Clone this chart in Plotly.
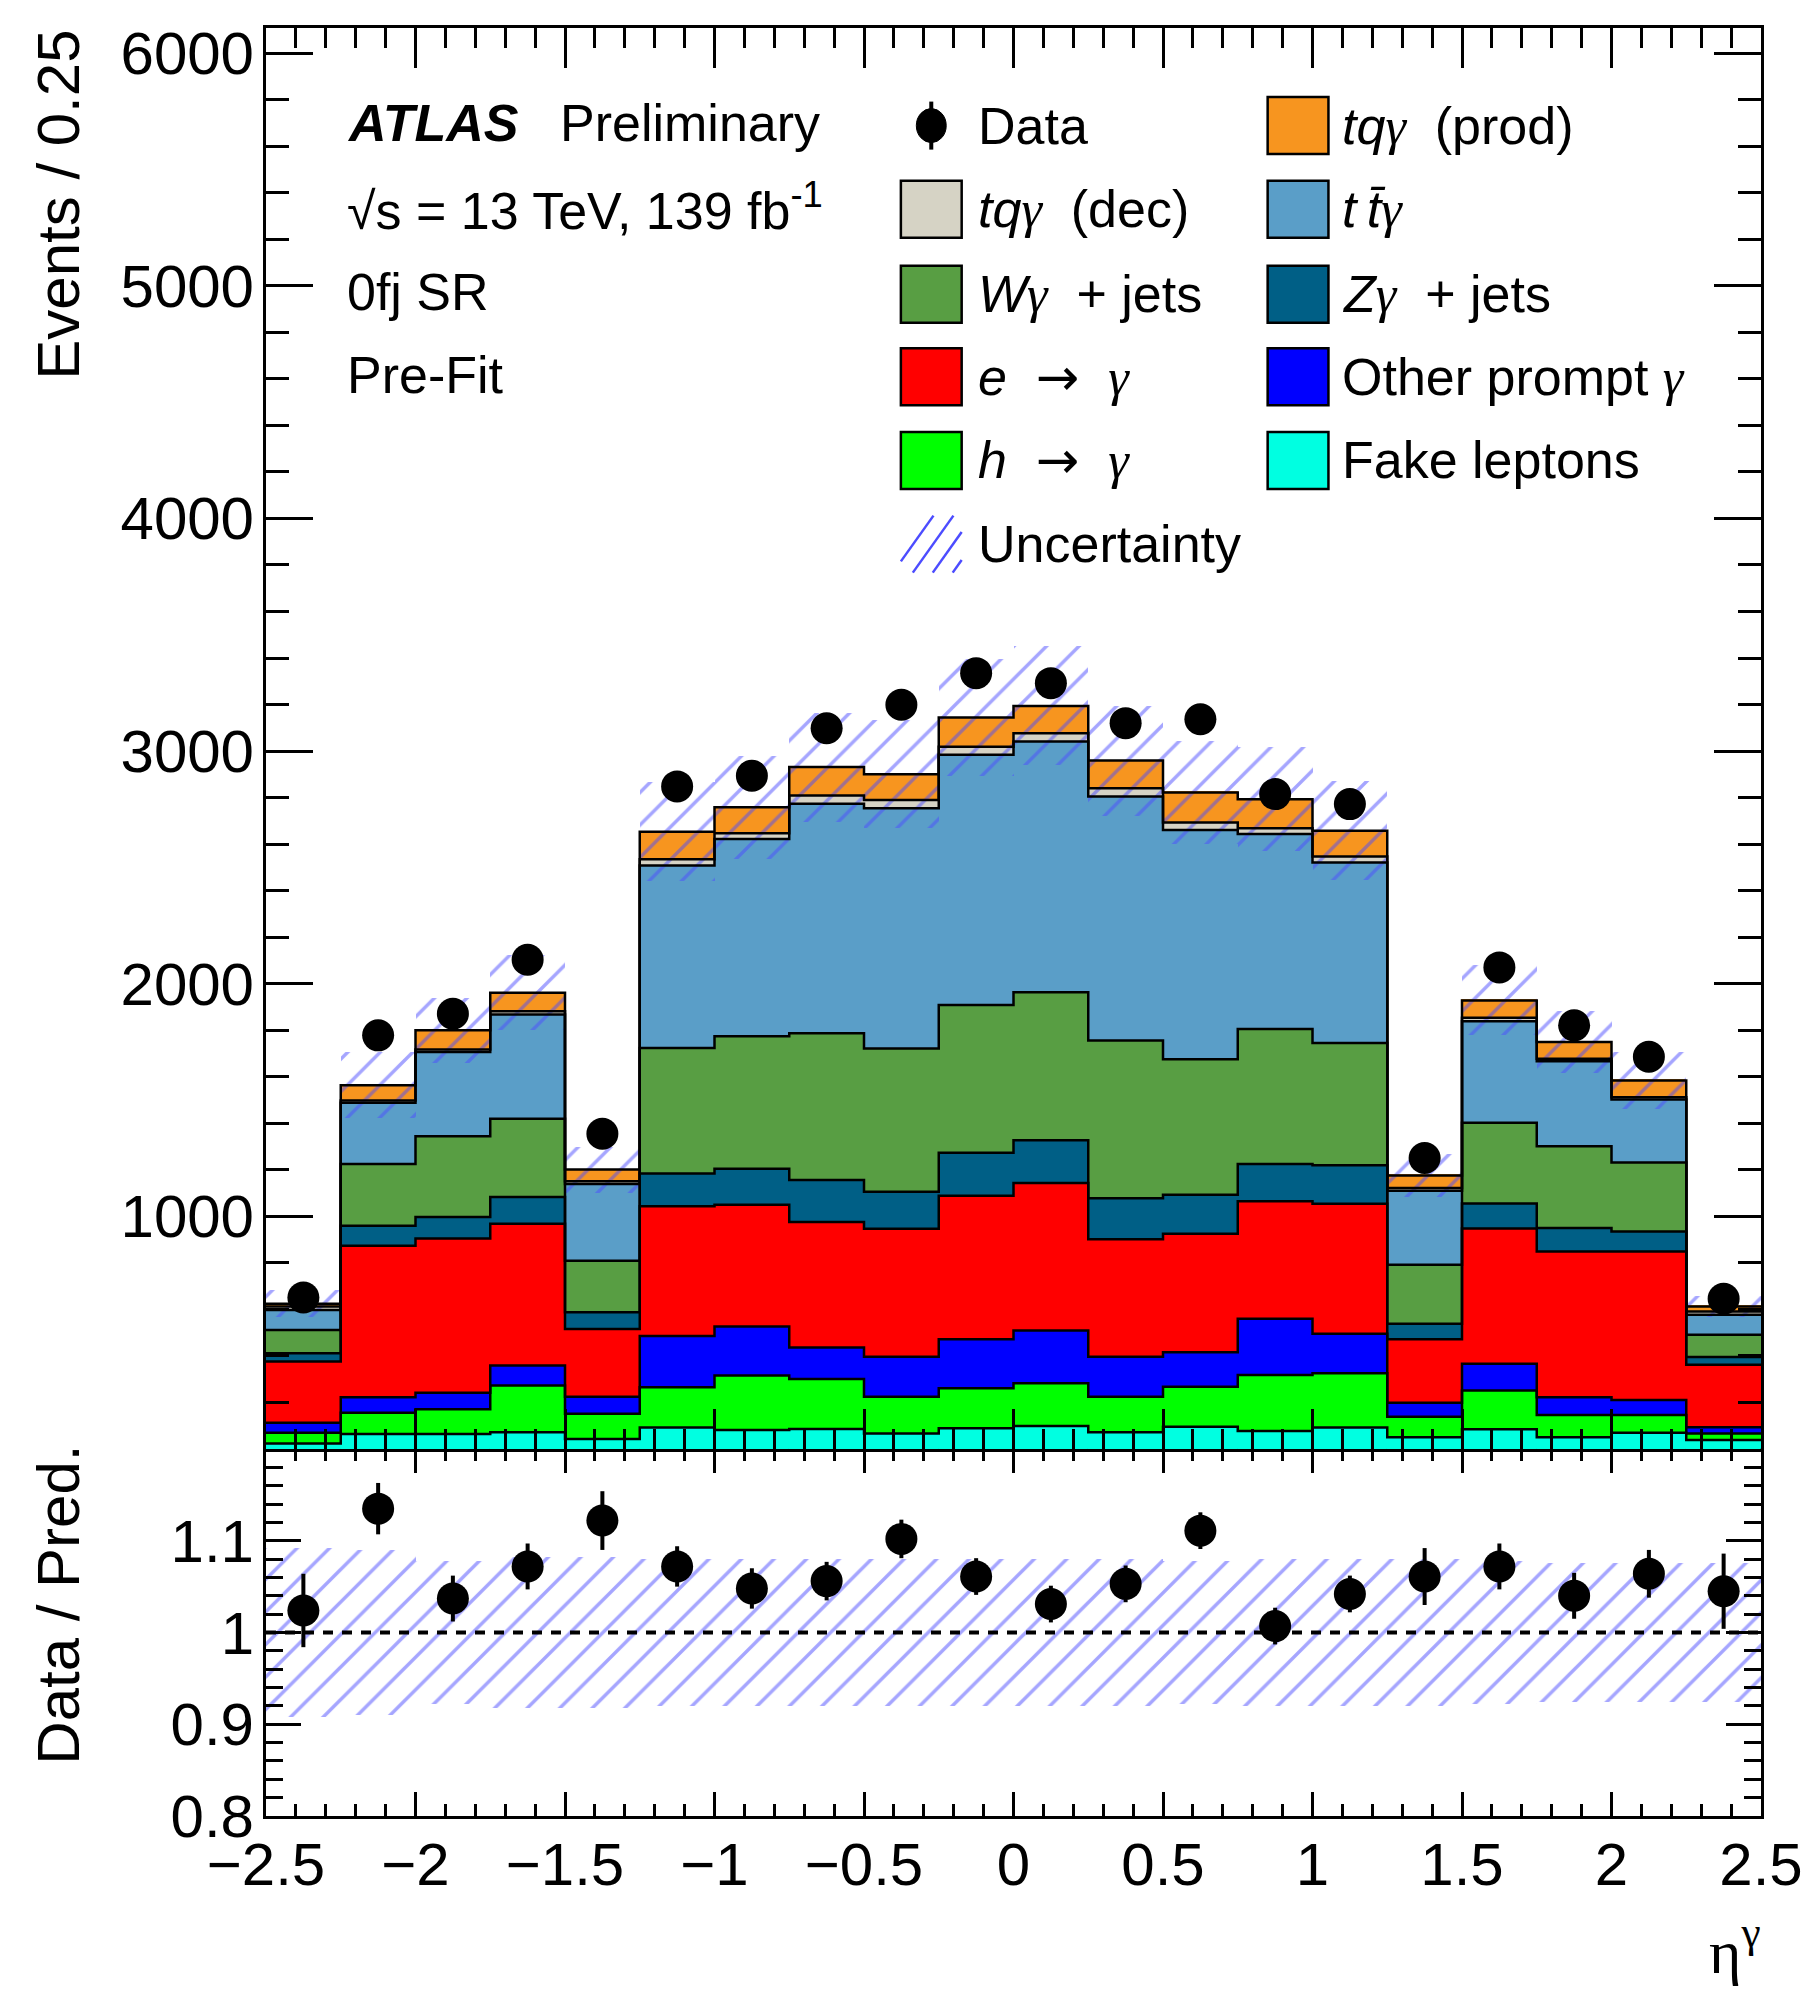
import numpy as np
import plotly.graph_objects as go

# ---------------- data ----------------
bin_edges = [-2.5, -2.25, -2.0, -1.75, -1.5, -1.25, -1.0, -0.75, -0.5, -0.25, 0.0,
             0.25, 0.5, 0.75, 1.0, 1.25, 1.5, 1.75, 2.0, 2.25, 2.5]

fake_leptons = [24, 65, 65, 72, 43, 92, 82, 86, 67, 89, 99, 72, 96, 77, 92, 50, 85, 50, 70, 39]
h_to_gamma = [46, 91, 106, 201, 108, 173, 234, 215, 158, 172, 184, 153, 172, 241, 234, 89, 166, 96, 76, 28]
other_prompt = [43, 66, 71, 86, 74, 221, 211, 135, 172, 211, 226, 172, 148, 242, 169, 60, 115, 76, 65, 26]
e_to_gamma = [263, 652, 663, 609, 291, 557, 523, 540, 550, 617, 634, 505, 509, 505, 559, 273, 582, 627, 638, 269]
zgamma_jets = [36, 86, 92, 115, 72, 141, 155, 180, 159, 184, 184, 176, 168, 160, 166, 66, 107, 101, 86, 33]
wgamma_jets = [100, 265, 347, 337, 221, 540, 569, 631, 615, 636, 636, 678, 582, 580, 525, 254, 347, 351, 297, 96]
ttgamma = [86, 263, 362, 448, 330, 784, 848, 986, 1033, 1075, 1078, 1049, 986, 839, 776, 318, 437, 366, 270, 86]
tqgamma_dec = [15, 10, 11, 14, 12, 27, 25, 36, 36, 35, 36, 35, 32, 24, 26, 12, 15, 10, 10, 14]
tqgamma_prod = [11, 66, 83, 79, 50, 118, 111, 122, 110, 125, 117, 119, 129, 125, 111, 54, 74, 72, 72, 22]

data_counts = [651, 1778, 1871, 2103, 1355, 2848, 2894, 3098, 3199, 3335,
               3292, 3120, 3137, 2815, 2772, 1251, 2070, 1821, 1686, 646]

ratio_vals = [1.024, 1.135, 1.037, 1.072, 1.122, 1.072, 1.048, 1.056, 1.102, 1.061,
              1.031, 1.053, 1.111, 1.007, 1.042, 1.061, 1.072, 1.040, 1.064, 1.045]
ratio_errs = [0.040, 0.028, 0.025, 0.025, 0.032, 0.022, 0.022, 0.021, 0.021, 0.020,
              0.020, 0.020, 0.020, 0.020, 0.020, 0.031, 0.025, 0.025, 0.026, 0.041]
rel_unc = [0.092, 0.090, 0.078, 0.082, 0.082, 0.080, 0.080, 0.080, 0.080, 0.080,
           0.080, 0.080, 0.078, 0.080, 0.080, 0.080, 0.078, 0.076, 0.076, 0.076]

x_tickvals = [-2.5, -2.0, -1.5, -1.0, -0.5, 0.0, 0.5, 1.0, 1.5, 2.0, 2.5]
x_ticktext = ["\u22122.5", "\u22122", "\u22121.5", "\u22121", "\u22120.5", "0", "0.5", "1", "1.5", "2", "2.5"]
y_tickvals = [1000, 2000, 3000, 4000, 5000, 6000]
y_ticktext = ["1000", "2000", "3000", "4000", "5000", "6000"]
r_tickvals = [0.8, 0.9, 1.0, 1.1]
r_ticktext = ["0.8", "0.9", "1", "1.1"]

# stack order bottom -> top
components = [
    ("Fake leptons", fake_leptons, "#00FFE1"),
    ("h -> gamma", h_to_gamma, "#00FF00"),
    ("Other prompt", other_prompt, "#0000FF"),
    ("e -> gamma", e_to_gamma, "#FF0000"),
    ("Zgamma + jets", zgamma_jets, "#005F86"),
    ("Wgamma + jets", wgamma_jets, "#589E43"),
    ("ttgamma", ttgamma, "#5A9EC8"),
    ("tqgamma dec", tqgamma_dec, "#D6D3C5"),
    ("tqgamma prod", tqgamma_prod, "#F7951F"),
]

edges = np.array(bin_edges)
centers = 0.5 * (edges[:-1] + edges[1:])
widths = np.diff(edges)

# ---------------- layout geometry (pixels) ----------------
W, H = 1815, 1989
L, R, T, B = 266, 1766, 28, 1816
SPLIT = 1449
FONT = "Liberation Sans"
SERIF = "Liberation Serif"


def pxx(x):
    return (x - L) / (R - L)


def pxy(y):
    return (B - y) / (B - T)


ratio_top = pxy(SPLIT)

fig = go.Figure()

# stacked fills
cum = np.zeros(len(centers))
tops = []
for name, vals, color in components:
    v = np.array(vals, dtype=float)
    fig.add_trace(go.Bar(
        x=centers, y=v, base=cum.copy(), width=widths,
        marker=dict(color=color, line=dict(width=1, color=color)),
        xaxis="x2", yaxis="y2", showlegend=False, name=name, hoverinfo="skip"))
    cum = cum + v
    tops.append(cum.copy())

total = cum.copy()

# step outlines
for t in tops:
    fig.add_trace(go.Scatter(
        x=edges, y=np.append(t, t[-1]), mode="lines",
        line=dict(shape="hv", color="black", width=2.5),
        xaxis="x2", yaxis="y2", showlegend=False, hoverinfo="skip"))

unc = np.array(rel_unc)
hatch = dict(shape="/", fgcolor="#4C4CFF", bgcolor="rgba(0,0,0,0)", size=23, solidity=0.15)

# uncertainty band in main panel
fig.add_trace(go.Bar(
    x=centers, y=2 * unc * total, base=total * (1 - unc), width=widths,
    marker=dict(color="rgba(0,0,0,0)", line=dict(width=0), pattern=hatch),
    xaxis="x2", yaxis="y2", showlegend=False, hoverinfo="skip"))

# data points
fig.add_trace(go.Scatter(
    x=centers, y=data_counts, mode="markers",
    marker=dict(color="black", size=32),
    xaxis="x2", yaxis="y2", showlegend=False))

# ratio panel
fig.add_trace(go.Bar(
    x=centers, y=2 * unc, base=1 - unc, width=widths,
    marker=dict(color="rgba(0,0,0,0)", line=dict(width=0), pattern=hatch),
    xaxis="x", yaxis="y", showlegend=False, hoverinfo="skip"))
fig.add_trace(go.Scatter(
    x=[edges[0], edges[-1]], y=[1, 1], mode="lines",
    line=dict(color="black", width=4, dash="10px,9px"),
    xaxis="x", yaxis="y", showlegend=False, hoverinfo="skip"))
fig.add_trace(go.Scatter(
    x=centers, y=ratio_vals, mode="markers",
    marker=dict(color="black", size=32),
    error_y=dict(type="data", array=ratio_errs, color="black", thickness=4, width=0),
    xaxis="x", yaxis="y", showlegend=False))

axis_common = dict(showline=True, linecolor="black", linewidth=3, mirror="allticks",
                   ticks="inside", tickcolor="black", tickwidth=3, showgrid=False,
                   zeroline=False, tickfont=dict(family=FONT, size=60, color="black"))

fig.update_layout(
    width=W, height=H,
    margin=dict(l=L, r=W - R, t=T, b=H - B, pad=0),
    paper_bgcolor="white", plot_bgcolor="white",
    barmode="overlay", bargap=0,
    font=dict(family=FONT, color="black"),
    xaxis=dict(domain=[0, 1], anchor="y", range=[-2.5, 2.5],
               tickmode="array", tickvals=x_tickvals, ticktext=x_ticktext, ticklen=24,
               ticklabelstandoff=-6,
               minor=dict(ticks="inside", tickmode="linear", tick0=-2.5, dtick=0.1,
                          ticklen=12, tickwidth=3, tickcolor="black"),
               **axis_common),
    yaxis=dict(domain=[0, ratio_top], anchor="x", range=[0.8, 1.2],
               tickmode="array", tickvals=r_tickvals, ticktext=r_ticktext, ticklen=35,
               ticklabelstandoff=-3,
               minor=dict(ticks="inside", tickmode="linear", tick0=0.8, dtick=0.02,
                          ticklen=17, tickwidth=3, tickcolor="black"),
               **axis_common),
    xaxis2=dict(domain=[0, 1], anchor="y2", matches="x", range=[-2.5, 2.5],
                tickmode="array", tickvals=x_tickvals, ticktext=x_ticktext, ticklen=40,
                showticklabels=False,
                minor=dict(ticks="inside", tickmode="linear", tick0=-2.5, dtick=0.1,
                           ticklen=20, tickwidth=3, tickcolor="black"),
                **axis_common),
    yaxis2=dict(domain=[ratio_top, 1], anchor="x2", range=[0, 6108],
                tickmode="array", tickvals=y_tickvals, ticktext=y_ticktext, ticklen=47,
                ticklabelstandoff=-3,
                minor=dict(ticks="inside", tickmode="linear", tick0=0, dtick=200,
                           ticklen=23, tickwidth=3, tickcolor="black"),
                **axis_common),
)

ann = []
shapes = []


def text(x, y, s, size=52, xanchor="left", yanchor="middle", family=FONT, angle=0):
    ann.append(dict(x=pxx(x), y=pxy(y), xref="paper", yref="paper", text=s,
                    showarrow=False, xanchor=xanchor, yanchor=yanchor, textangle=angle,
                    font=dict(family=family, size=size, color="black")))


# axis titles
text(57, 28, "Events / 0.25", size=60, xanchor="center", yanchor="top", angle=-90)
text(57, 1443, "Data / Pred.", size=60, xanchor="center", yanchor="top", angle=-90)
text(1768, 1988, "\u03b7<sup>\u03b3</sup>", size=62, xanchor="right", yanchor="bottom", family=SERIF)

# ATLAS label block
text(345, 123, "<b><i>ATLAS</i></b>")
text(559, 123, "Preliminary")
text(345, 207, "\u221as = 13 TeV, 139 fb<sup>-1</sup>")
text(345, 292, "0fj SR")
text(345, 375, "Pre-Fit")

# legend
g = "<i><span style=\"font-family:Liberation Serif\">\u03b3</span></i>"
arrow = "<span style=\"font-family:DejaVu Sans\">\u2192</span>"
rows = [125.6, 209.3, 294.3, 376.7, 460.4, 544.1]
c1_box, c2_box = 903, 1271
c1_txt, c2_txt = 978, 1344
bw, bh = 61, 57
legend_boxes = [
    (c2_box, rows[0], "#F7951F", "<i>tq</i>" + g + "  (prod)", c2_txt),
    (c1_box, rows[1], "#D6D3C5", "<i>tq</i>" + g + "  (dec)", c1_txt),
    (c2_box, rows[1], "#5A9EC8", "<i>t\u2009t\u0304</i>" + g, c2_txt),
    (c1_box, rows[2], "#589E43", "<i>W</i>" + g + "  + jets", c1_txt),
    (c2_box, rows[2], "#005F86", "<i>Z</i>" + g + "  + jets", c2_txt),
    (c1_box, rows[3], "#FF0000", "<i>e</i>  " + arrow + "  " + g, c1_txt),
    (c2_box, rows[3], "#0000FF", "Other prompt " + g, c2_txt),
    (c1_box, rows[4], "#00FF00", "<i>h</i>  " + arrow + "  " + g, c1_txt),
    (c2_box, rows[4], "#00FFE1", "Fake leptons", c2_txt),
]
for bx, by, col, lab, tx in legend_boxes:
    shapes.append(dict(type="rect", xref="paper", yref="paper",
                       x0=pxx(bx), x1=pxx(bx + bw), y0=pxy(by + bh / 2), y1=pxy(by - bh / 2),
                       fillcolor=col, line=dict(color="black", width=2.5), layer="above"))
    text(tx, by, lab)

# data legend glyph
dcx = c1_box + bw / 2
shapes.append(dict(type="line", xref="paper", yref="paper", x0=pxx(dcx), x1=pxx(dcx),
                   y0=pxy(rows[0] - 24), y1=pxy(rows[0] + 24), line=dict(color="black", width=4), layer="above"))
shapes.append(dict(type="circle", xref="paper", yref="paper", x0=pxx(dcx - 15), x1=pxx(dcx + 15),
                   y0=pxy(rows[0] + 17), y1=pxy(rows[0] - 17), fillcolor="black",
                   line=dict(color="black", width=1), layer="above"))
text(c1_txt, rows[0], "Data")

# uncertainty legend glyph (hatch lines)
uy0 = rows[5] + bh / 2
for k in range(4):
    x0 = c1_box - 8 + k * 20
    xa = max(x0, c1_box)
    xb = min(x0 + bh / 1.4, c1_box + bw)
    shapes.append(dict(type="line", xref="paper", yref="paper",
                       x0=pxx(xa), y0=pxy(uy0 - (xa - x0) * 1.4),
                       x1=pxx(xb), y1=pxy(uy0 - (xb - x0) * 1.4),
                       line=dict(color="#4C4CFF", width=2.5), layer="above"))
text(c1_txt, rows[5], "Uncertainty")

fig.update_layout(annotations=ann, shapes=shapes)
fig.write_html("out.html")
